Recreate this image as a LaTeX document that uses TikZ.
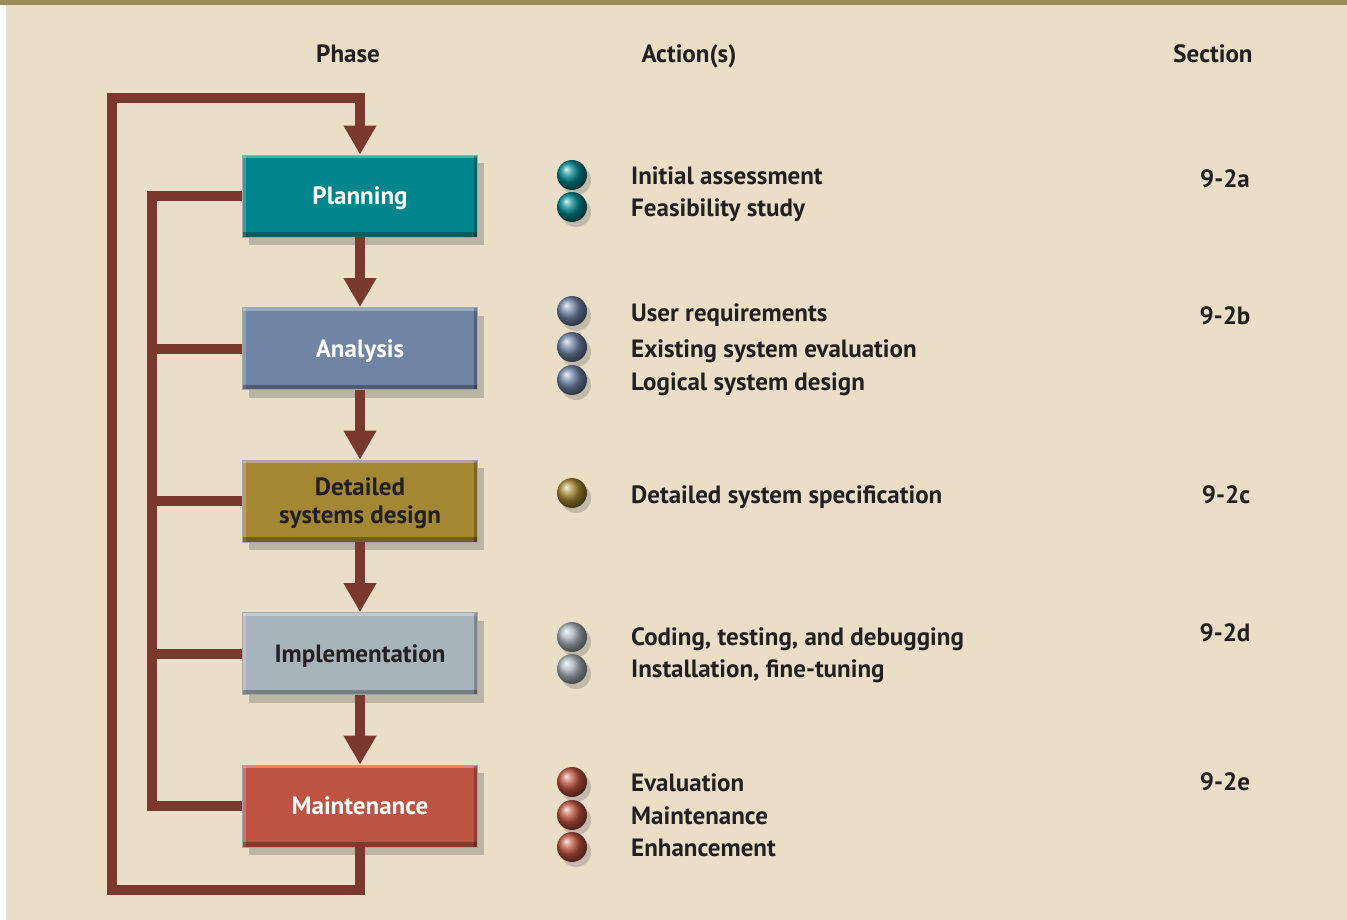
\documentclass[tikz,border=0pt]{standalone}
\usepackage{fontspec}
\setmainfont{PT Sans}
\usetikzlibrary{arrows.meta,positioning,shadows}

\definecolor{pagebg}{RGB}{234,222,198}
\definecolor{topbar}{RGB}{156,140,88}
\definecolor{linkred}{RGB}{123,56,46}
\definecolor{planfill}{RGB}{0,133,140}
\definecolor{analfill}{RGB}{112,132,166}
\definecolor{desfill}{RGB}{164,135,50}
\definecolor{implfill}{RGB}{168,180,187}
\definecolor{maintfill}{RGB}{189,83,64}
\definecolor{inkdark}{RGB}{35,31,32}

\begin{document}
\begin{tikzpicture}[
  x=1pt,y=-1pt,
  node distance=69.7pt,
  font=\fontsize{25}{28}\selectfont\bfseries,
  phasebox/.style={rectangle,draw=black!35,line width=0.8pt,minimum width=235pt,minimum height=82pt,
               align=center,inner sep=0pt,text depth=0pt,
               drop shadow={shadow xshift=6pt,shadow yshift=-8pt,fill=black!60,opacity=.35},
               path picture={
                 \fill[white,opacity=.3] (path picture bounding box.north west) rectangle ([yshift=-3pt]path picture bounding box.north east);
                 \fill[white,opacity=.2] (path picture bounding box.north west) rectangle ([xshift=3pt]path picture bounding box.south west);
                 \fill[black,opacity=.3] ([yshift=5pt]path picture bounding box.south west) rectangle (path picture bounding box.south east);
                 \fill[black,opacity=.25] ([xshift=-4pt]path picture bounding box.north east) rectangle (path picture bounding box.south east);
               }},
  colhead/.style={anchor=base,text=inkdark,inner sep=0pt},
  acttext/.style={anchor=base west,text=inkdark,inner sep=0pt},
  secttext/.style={anchor=base,text=inkdark,inner sep=0pt},
  actball/.style={circle,minimum size=30pt,inner sep=0pt,ball color=#1,
               drop shadow={shadow xshift=4pt,shadow yshift=-5pt,fill=black!60,opacity=.3}},
  arr/.style={-{Triangle[width=31pt,length=29pt]},line width=10pt,draw=linkred},
  looplink/.style={line width=10pt,draw=linkred,line join=miter}
]
  % page
  \useasboundingbox (0,0) rectangle (1347,920);
  \fill[white] (0,0) rectangle (1347,920);
  \fill[pagebg] (6,0) rectangle (1347,920);
  \fill[topbar] (0,0) rectangle (1347,5);

  % column heads
  \node[colhead] (phasehd) at (348,63) {Phase};
  \node[colhead] (acthd) at (689,63) {Action(s)};
  \node[colhead] (secthd) at (1213,63) {Section};

  % phases
  \node[phasebox,fill=planfill,text=white] (plan) at (360,196) {Planning};
  \node[phasebox,fill=analfill,text=white,below=of plan] (anal) {Analysis};
  \node[phasebox,fill=desfill,text=inkdark,below=of anal] (design) {Detailed\\systems design};
  \node[phasebox,fill=implfill,text=inkdark,below=of design] (impl) {Implementation};
  \node[phasebox,fill=maintfill,text=white,below=of impl] (maint) {Maintenance};

  \coordinate (busline) at (152,500);
  \coordinate (loopbot) at (112,890);
  \coordinate (looptop) at (112,98);

  \draw[looplink] (plan.west) -| (busline) |- (maint.west);
  \draw[looplink] (anal.west) -- (anal.west -| busline);
  \draw[looplink] (design.west) -- (design.west -| busline);
  \draw[looplink] (impl.west) -- (impl.west -| busline);
  \draw[arr,line join=miter] (maint.south) |- (loopbot) -- (looptop) -| (plan.north);

  \draw[arr] (plan) -- (anal);
  \draw[arr] (anal) -- (design);
  \draw[arr] (design) -- (impl);
  \draw[arr] (impl) -- (maint);

  % actions
  \node[actball=planfill] (pb1) at (572,175) {};
  \node[actball=planfill] (pb2) at (572,207) {};
  \node[acttext] (pt1) at (631,185) {Initial assessment};
  \node[acttext] (pt2) at (631,217) {Feasibility study};

  \node[actball=analfill] (ab1) at (572,311) {};
  \node[actball=analfill] (ab2) at (572,347) {};
  \node[actball=analfill] (ab3) at (572,380) {};
  \node[acttext] (at1) at (631,321) {User requirements};
  \node[acttext] (at2) at (631,357) {Existing system evaluation};
  \node[acttext] (at3) at (631,390) {Logical system design};

  \node[actball=desfill] (db1) at (572,493) {};
  \node[acttext] (dt1) at (631,503) {Detailed system specification};

  \node[actball=implfill] (ib1) at (572,637) {};
  \node[actball=implfill] (ib2) at (572,669) {};
  \node[acttext] (it1) at (631,645) {Coding, testing, and debugging};
  \node[acttext] (it2) at (631,677) {Installation, fine-tuning};

  \node[actball=maintfill] (mb1) at (572,782) {};
  \node[actball=maintfill] (mb2) at (572,815) {};
  \node[actball=maintfill] (mb3) at (572,847) {};
  \node[acttext] (mt1) at (631,791) {Evaluation};
  \node[acttext] (mt2) at (631,824) {Maintenance};
  \node[acttext] (mt3) at (631,856) {Enhancement};

  % sections
  \node[secttext] (sa) at (1225,188) {9-2a};
  \node[secttext] (sb) at (1225,324) {9-2b};
  \node[secttext] (sc) at (1226,503) {9-2c};
  \node[secttext] (sd) at (1225,641) {9-2d};
  \node[secttext] (se) at (1225,790) {9-2e};
\end{tikzpicture}
\end{document}
